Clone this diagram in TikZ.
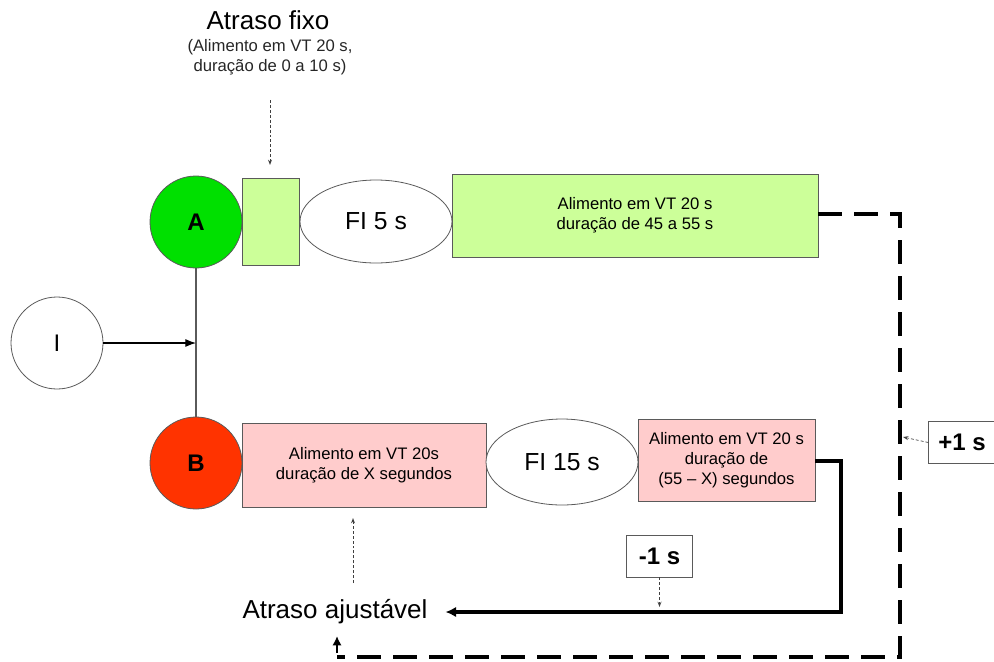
\documentclass[tikz,border=0pt]{standalone}
\usepackage{fontspec}
\setmainfont{Liberation Sans}
\usetikzlibrary{shapes.geometric,arrows.meta}
\definecolor{lgreen}{RGB}{204,255,153}
\definecolor{lpink}{RGB}{255,204,204}
\definecolor{agreen}{RGB}{0,224,0}
\definecolor{bred}{RGB}{255,51,0}
\definecolor{edge}{RGB}{90,90,90}
\begin{document}
\begin{tikzpicture}[x=0.75pt,y=-0.75pt,
  circ/.style={circle,draw=edge,line width=0.6pt,minimum size=69pt,inner sep=0pt,font=\fontsize{18}{20}\selectfont},
  boxg/.style={rectangle,draw=edge,line width=0.6pt,fill=lgreen,inner sep=0pt,align=center,font=\fontsize{12.5}{15}\selectfont},
  boxp/.style={rectangle,draw=edge,line width=0.6pt,fill=lpink,inner sep=0pt,align=center,font=\fontsize{12.5}{15}\selectfont},
  oval/.style={ellipse,draw=edge,line width=0.6pt,fill=white,inner sep=0pt,font=\fontsize{18.5}{20}\selectfont},
  tag/.style={rectangle,draw=edge,line width=0.6pt,fill=white,inner sep=0pt,font=\bfseries\fontsize{18}{20}\selectfont},
  hint/.style={draw=black!75,line width=0.5pt,dash pattern=on 2.2pt off 1.5pt,-{Stealth[length=4pt,width=3pt,open]}},
  feedpos/.style={draw=black,line width=2.4pt,dash pattern=on 18pt off 9pt},
  feedneg/.style={draw=black,line width=2.4pt},
  bigtext/.style={font=\fontsize{19.5}{21}\selectfont}]
\useasboundingbox (0,0) rectangle (994,661);

% fixed delay caption
\node[bigtext] (fixtitle) at (268,20) {Atraso fixo};
\node[font=\fontsize{12.5}{15}\selectfont,align=center,text=black!85] (fixnote) at (270,57)
  {(Alimento em VT 20 s,\\duração de 0 a 10 s)};

% upper chain (A)
\node[circ,fill=agreen,font=\bfseries\fontsize{18}{20}\selectfont] (A) at (196,222) {A};
\node[boxg,minimum width=42.75pt,minimum height=65.25pt] (fix) at (270.5,221.5) {};
\node[oval,minimum width=114pt,minimum height=62.25pt] (fi5) at (376,221.5) {FI 5 s};
\node[boxg,minimum width=274.5pt,minimum height=62.25pt] (feedA) at (635,215.5)
  {Alimento em VT 20 s\\duração de 45 a 55 s};

% start node
\node[circ,fill=white] (I) at (57,343) {I};
\coordinate (join) at (196,343);

% lower chain (B)
\node[circ,fill=bred,font=\bfseries\fontsize{18}{20}\selectfont] (B) at (196,463) {B};
\node[boxp,minimum width=183pt,minimum height=63pt] (feedX) at (364,465)
  {Alimento em VT 20s\\duração de X segundos};
\node[oval,minimum width=114pt,minimum height=64.5pt] (fi15) at (562,462) {FI 15 s};
\node[boxp,minimum width=132.75pt,minimum height=61.5pt] (feedR) at (726.5,460)
  {Alimento em VT 20 s\\duração de\\(55 – X) segundos};

% adjustable delay
\node[bigtext] (adj) at (335,612) {Atraso ajustável};
\node[tag,minimum width=50pt,minimum height=31.5pt] (minus) at (659.5,556) {-1 s};
\node[tag,minimum width=50pt,minimum height=31pt] (plus) at (962,442.5) {+1 s};

% helper points
\coordinate (fixtip) at (270,165);
\coordinate (noteend) at (270,100);
\coordinate (adjtop) at (353,583);
\coordinate (adjtip) at (353,518);
\coordinate (minustip) at (659.5,607);
\coordinate (plustip) at (903,437);
\coordinate (posA) at (900,214);
\coordinate (posB) at (900,657);
\coordinate (posC) at (337,657);
\coordinate (posD) at (337,653);
\coordinate (posE) at (337,636);
\coordinate (negA) at (841,461);
\coordinate (negB) at (841,612);

% connectors
\draw[edge,line width=0.8pt] (A.south) -- (B.north);
\draw[black,line width=0.8pt,-{Latex[length=8pt,width=6pt]}] (I.east) -- (join);

\draw[hint] (noteend) -- (fixtip);
\draw[hint] (adjtop) -- (adjtip);
\draw[hint] (minus.south) -- (minustip);
\draw[hint] (plus.west) -- (plustip);

% increment loop (dashed)
\draw[feedpos] (feedA.east |- posA) -- (posA) -- (posB) -- (posC);
\draw[black,line width=2pt,-{Latex[length=7pt,width=7pt]}] (posD) -- (posE);

% decrement loop (solid)
\draw[feedneg,-{Latex[length=8pt,width=8pt]}] (feedR.east |- negA) -- (negA) -- (negB) -- ([xshift=10pt]adj.east |- negB);
\end{tikzpicture}
\end{document}
